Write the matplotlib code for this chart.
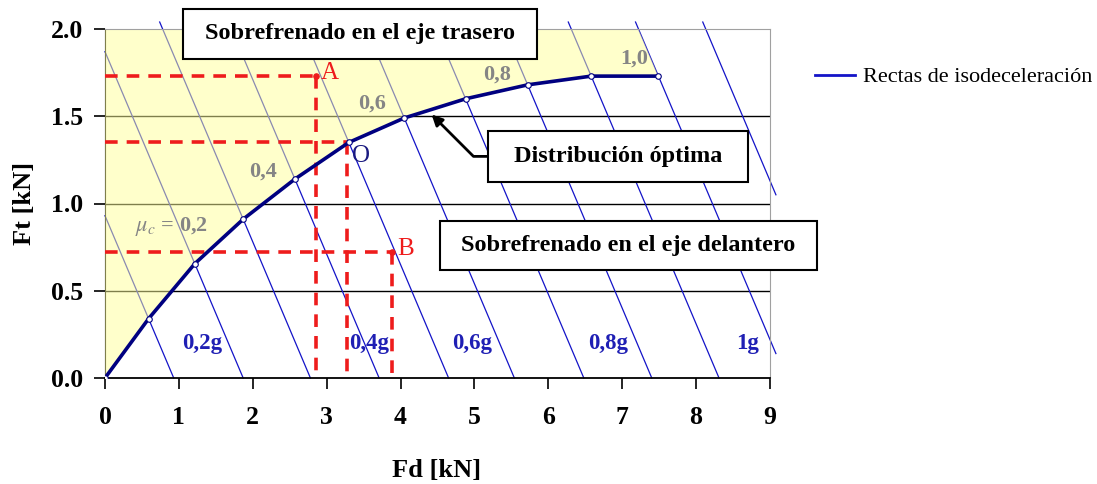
import matplotlib
matplotlib.use('Agg')
import matplotlib.pyplot as plt
from matplotlib.lines import Line2D
from matplotlib.patches import Rectangle

plt.rcParams['font.family'] = 'Liberation Serif'
plt.rcParams['mathtext.fontset'] = 'stix'

# isodeceleration lines Fd + Ft = c (kN), one per 0.1 g
iso_c = [0.93, 1.87, 2.78, 3.71, 4.65, 5.54, 6.48, 7.40, 8.31, 9.22, 10.13]
# optimal (ideal) braking distribution, mu = 0 ... 1.0
mu = [0.0, 0.1, 0.2, 0.3, 0.4, 0.5, 0.6, 0.7, 0.8, 0.9, 1.0]
curve_fd = [0.0, 0.59, 1.215, 1.87, 2.57, 3.30, 4.05, 4.88, 5.72, 6.58, 7.49]
curve_ft = [0.0, 0.34, 0.655, 0.91, 1.14, 1.35, 1.49, 1.60, 1.68, 1.73, 1.73]
mu_labels = ['$\\mu_c$ = 0,2', '0,4', '0,6', '0,8', '1,0']
mu_label_pos = [(0.90, 0.87), (2.14, 1.18), (3.62, 1.57), (5.30, 1.74), (7.16, 1.83)]
g_labels = ['0,2g', '0,4g', '0,6g', '0,8g', '1g']
g_label_x = [1.31, 3.57, 4.97, 6.81, 8.70]
# operating points
pts_name = ['A', 'O', 'B']
pts_fd = [2.86, 3.28, 3.89]
pts_ft = [1.73, 1.35, 0.72]
pts_color = ['#ee1c1c', '#1a1a80', '#ee1c1c']

fig = plt.figure(figsize=(10.97, 4.84), dpi=100)
ax = fig.add_axes([105 / 1097, 1 - 378 / 484, 665 / 1097, 349 / 484])
ax.set_xlim(0, 9)
ax.set_ylim(0, 2)

# gridlines
for y in [0.5, 1.0, 1.5]:
    ax.axhline(y, color='black', lw=1, zorder=0.5)

# isodeceleration lines, drawn a bit past the frame like the original
blue = '#1414c8'
for c in iso_c:
    ft0 = max(0.0, c - 9.08)
    ft1 = min(2.04, c)
    ax.plot([c - ft0, c - ft1], [ft0, ft1], color=blue, lw=0.9, zorder=1, clip_on=False)

# over-braking on the rear axle region (semi-transparent yellow)
poly_x = curve_fd + [iso_c[-2] - 2.0, 0.0]
poly_y = curve_ft + [2.0, 2.0]
ax.fill(poly_x, poly_y, color='#ffff99', alpha=0.5, lw=0, zorder=2)

# red dashed construction lines
for x, y in zip(pts_fd, pts_ft):
    ax.plot([0, x], [y, y], color='#ee1c1c', lw=2.6, dashes=(3.5, 2.5), zorder=3)
    ax.plot([x, x], [y, 0], color='#ee1c1c', lw=2.6, dashes=(3.5, 2.5), zorder=3)
ax.scatter(pts_fd[::2], pts_ft[::2], s=14, color='#ee1c1c', zorder=4)
for n, x, y, col in zip(pts_name, pts_fd, pts_ft, pts_color):
    dy = -0.08 if n == 'O' else 0.02
    ax.text(x + 0.06, y + dy, n, color=col, fontsize=18, va='center', ha='left', zorder=6)

# optimal distribution curve
ax.plot(curve_fd, curve_ft, color='#000080', lw=2.6, zorder=4)
ax.plot(curve_fd, curve_ft, ls='none', marker='o', ms=4, mfc='white', mec='#000080',
        mew=0.8, zorder=5)

for t, (x, y) in zip(mu_labels, mu_label_pos):
    ax.text(x, y, t, color='#858585', fontsize=16, fontweight='bold', ha='center',
            va='center', zorder=6)
for t, x in zip(g_labels, g_label_x):
    ax.text(x, 0.2, t, color='#1f1fb4', fontsize=16.5, fontweight='bold', ha='center',
            va='center', zorder=6)

# text boxes (x0, x1, y0, y1 in data units)
boxes = [('Sobrefrenado en el eje trasero', (1.054, 5.85, 1.828, 2.115)),
         ('Sobrefrenado en el eje delantero', (4.53, 9.64, 0.62, 0.897)),
         ('Distribución óptima', (5.19, 8.70, 1.126, 1.414))]
for t, (x0, x1, y0, y1) in boxes:
    ax.add_patch(Rectangle((x0, y0), x1 - x0, y1 - y0, fc='white', ec='black', lw=1.5,
                           zorder=7, clip_on=False))
    ax.text((x0 + x1) / 2, (y0 + y1) / 2, t, fontsize=17.5, fontweight='bold',
            ha='center', va='center', zorder=8, clip_on=False)

ax.annotate('', xy=(4.42, 1.51), xytext=(5.19, 1.27),
            arrowprops=dict(arrowstyle='-|>', color='black', lw=2, mutation_scale=16,
                            connectionstyle='angle,angleA=0,angleB=-45,rad=0',
                            shrinkA=0, shrinkB=0), zorder=6)

# frame and ticks
ax.spines['left'].set_zorder(1.5)
ax.spines['left'].set_color('black')
ax.spines['bottom'].set_color('black')
ax.spines['bottom'].set_linewidth(1.3)
ax.spines['top'].set_color('#a0a0a0')
ax.spines['right'].set_color('#a0a0a0')
ax.set_xticks(range(0, 10))
ax.set_yticks([0, 0.5, 1.0, 1.5, 2.0])
ax.set_yticklabels(['0.0', '0.5', '1.0', '1.5', '2.0'])
ax.tick_params(axis='both', direction='out', length=8, width=1.2, labelsize=18.5)
ax.tick_params(axis='x', pad=12)
ax.tick_params(axis='y', pad=8)
for lab in ax.get_xticklabels() + ax.get_yticklabels():
    lab.set_fontweight('bold')
fig.text(437 / 1097, 1 - 470 / 484, 'Fd [kN]', fontsize=19, fontweight='bold',
         ha='center', va='center')
fig.text(24 / 1097, 1 - 203 / 484, 'Ft [kN]', fontsize=19, fontweight='bold',
         ha='center', va='center', rotation=90)

handle = Line2D([], [], color=blue, lw=2)
fig.legend([handle], ['Rectas de isodeceleración'], loc='center left',
           bbox_to_anchor=(815 / 1097, 1 - 77 / 484), frameon=False, fontsize=16,
           handlelength=1.8, handletextpad=0.35, borderpad=0, borderaxespad=0)

fig.savefig('out.png', dpi=100, facecolor='white')
